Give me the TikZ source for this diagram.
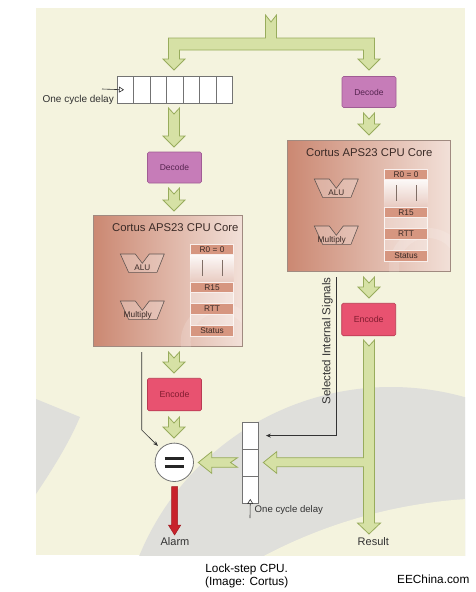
\documentclass[tikz,border=0pt]{standalone}
\usepackage{fontspec}
\setmainfont{Liberation Sans}
\usetikzlibrary{arrows.meta}
\definecolor{cream}{RGB}{244,243,222}
\definecolor{swoosh}{RGB}{223,223,219}
\definecolor{gfill}{RGB}{214,225,165}
\definecolor{gline}{RGB}{152,172,92}
\definecolor{decfill}{RGB}{198,124,184}
\definecolor{decline}{RGB}{160,92,148}
\definecolor{dectext}{RGB}{86,36,80}
\definecolor{encfill}{RGB}{232,82,112}
\definecolor{encline}{RGB}{184,58,82}
\definecolor{enctext}{RGB}{130,28,48}
\definecolor{cpuL}{RGB}{203,136,114}
\definecolor{cpuR}{RGB}{242,224,216}
\definecolor{cpuline}{RGB}{160,138,128}
\definecolor{regfill}{RGB}{214,150,128}
\definecolor{dtext}{RGB}{58,42,38}
\definecolor{alarmred}{RGB}{200,34,43}
\definecolor{txt}{RGB}{50,50,50}
\tikzset{
  garrow/.style={fill=gfill, draw=gline, line width=0.8pt, line join=miter},
  decbox/.style={rectangle, rounded corners=1.5pt, fill=decfill, draw=decline, line width=0.6pt,
    minimum width=54pt, minimum height=31pt, inner sep=0pt, text=dectext, font=\fontsize{8.5}{10}\selectfont},
  encbox/.style={rectangle, rounded corners=1.5pt, fill=encfill, draw=encline, line width=0.6pt,
    minimum width=54pt, minimum height=32.5pt, inner sep=0pt, text=enctext, font=\fontsize{8.8}{10}\selectfont},
  cpubox/.style={rectangle, draw=cpuline, line width=0.6pt, left color=cpuL, right color=cpuR, inner sep=0pt},
  cputitle/.style={inner sep=0pt, text=dtext, font=\fontsize{11.3}{13}\selectfont},
  reg/.style={rectangle, fill=regfill, draw=white!85!regfill, line width=0.5pt, inner sep=0pt,
    minimum width=43pt, minimum height=10pt, text=dtext, font=\fontsize{8.3}{9}\selectfont},
  regline/.style={draw=cpuline!80!black, line width=0.5pt},
  alushape/.style={fill=white, fill opacity=0.25, draw=dtext!80, line width=0.6pt, line join=miter},
  alulabel/.style={inner sep=0pt, text=dtext, font=\fontsize{8.2}{9}\selectfont},
  cell/.style={rectangle, fill=white, draw=black!55, line width=0.6pt, inner sep=0pt},
  thinline/.style={draw=black!80, line width=0.6pt},
  lbl/.style={inner sep=0pt, text=txt},
  eqc/.style={circle, fill=white, draw=black!55, line width=0.8pt, inner sep=0pt, minimum size=38.4pt},
}
\newcommand\gdown[3]{%
  \path[garrow] ({#1-5.5},#2) -- (#1,{#2+6}) -- ({#1+5.5},#2) -- ({#1+5.5},{#3-11}) -- ({#1+11},{#3-11})
    -- (#1,#3) -- ({#1-11},{#3-11}) -- ({#1-5.5},{#3-11}) -- cycle;}
\newcommand\alupath[2]{%
  \path[alushape] (#1,#2) -- ({#1+15},#2) -- ({#1+22},{#2+9.3}) -- ({#1+29},#2) -- ({#1+44},#2)
    -- ({#1+36.7},{#2+18.3}) -- ({#1+8.3},{#2+18.3}) -- cycle;}
\newcommand\cpucore[4]{%
  \node[cpubox, minimum width=#3pt, minimum height=131pt, anchor=north west] (#4) at (#1,#2) {};
  \begin{scope}
    \clip (#1,#2) rectangle ({#1+#3},{#2+131});
    \draw[white, opacity=.15, line width=10pt] ({#1+#3-22},{#2+127}) circle[radius=34];
  \end{scope}
  \node[cputitle] (#4-title) at ({#1+82},{#2+12.5}) {Cortus APS23 CPU Core};
  \fill[white, opacity=.3] ({#1+97},{#2+29}) rectangle ({#1+140},{#2+120.5});
  \draw[white!70!cpuR, line width=.4pt] ({#1+97},{#2+29}) rectangle ({#1+140},{#2+120.5});
  \shade[top color=white, bottom color=white!55!cpuL, opacity=.9] ({#1+97},{#2+38.5}) rectangle ({#1+140},{#2+67});
  \draw[regline] ({#1+108.5},{#2+45}) -- ({#1+108.5},{#2+61});
  \draw[regline] ({#1+129},{#2+45}) -- ({#1+129},{#2+61});
  \node[reg, anchor=north west] (#4-r0) at ({#1+97},{#2+29}) {R0 = 0};
  \node[reg, anchor=north west] (#4-r15) at ({#1+97},{#2+67}) {R15};
  \node[reg, anchor=north west, minimum height=10.5pt] (#4-rtt) at ({#1+97},{#2+88}) {RTT};
  \node[reg, anchor=north west, minimum height=10.5pt] (#4-st) at ({#1+97},{#2+110}) {Status};
  \alupath{#1+27}{#2+39}
  \node[alulabel] (#4-alu) at ({#1+49},{#2+52.5}) {ALU};
  \alupath{#1+27}{#2+86}
  \node[alulabel, font=\fontsize{8.3}{9}\selectfont] (#4-mul) at ({#1+44.5},{#2+100}) {Multiply};
}
\begin{document}
\begin{tikzpicture}[x=1pt,y=-1pt]
\useasboundingbox (0,0) rectangle (476,592);
\fill[white] (0,0) rectangle (476,592);
\fill[cream] (36,8) rectangle (465,555);
\begin{scope}
  \clip (36,8) rectangle (465,555);
  \fill[swoosh] (391,659) circle[radius=272];
  \fill[cream] (499,1003) circle[radius=505];
  \fill[swoosh] (36,399) -- (80,417) .. controls (68,445) and (52,470) .. (36,494) -- cycle;
\end{scope}

% top T arrow
\path[garrow] (265.5,15) -- (271,22) -- (276.5,15) -- (276.5,38) -- (374.5,38) -- (374.5,59)
  -- (380,59) -- (369,70) -- (358,59) -- (363.5,59) -- (363.5,50) -- (179.5,50) -- (179.5,59)
  -- (185,59) -- (174,70) -- (163,59) -- (168.5,59) -- (168.5,38) -- (265.5,38) -- cycle;

% top shift register
\foreach \i in {0,...,6} {
  \node[cell, minimum width=16.43pt, minimum height=27pt, anchor=north west] (top\i) at ({117+\i*16.43},76) {};
}
\coordinate (clkA) at (102,89);
\draw[thinline, -{Triangle[open, length=5pt, width=6pt]}] (clkA) -- ([xshift=7pt]top0.west);
\node[lbl, anchor=east, font=\fontsize{10}{12}\selectfont] (delay1) at (114,100) {One cycle delay};

% left column
\gdown{174}{108}{147}
\node[decbox] (decL) at (174.5,167.5) {Decode};
\gdown{174}{188}{211}
\cpucore{93.3}{215}{148.4}{coreL}
\gdown{174}{352}{373}
\node[encbox] (encL) at (174.5,394.5) {Encode};
\gdown{174}{417}{438}

% right column
\node[decbox] (decR) at (369,92) {Decode};
\gdown{369}{113}{135}
\cpucore{287.3}{140}{162.7}{coreR}
\gdown{369}{277}{298}
\node[encbox] (encR) at (368.7,319.5) {Encode};

% result arrow with branch
\path[garrow] (363.5,340) -- (369,346) -- (374.5,340) -- (374.5,523) -- (380.5,523) -- (369,534)
  -- (357.5,523) -- (363.5,523) -- (363.5,466.7) -- (276.7,466.7) -- (276.7,473.3) -- (263.3,462.5)
  -- (276.7,451.7) -- (276.7,457.7) -- (363.5,457.7) -- cycle;

% bottom shift register
\foreach \i in {0,1,2} {
  \node[cell, minimum width=16.6pt, minimum height=27.2pt, anchor=north west] (bot\i) at (241.7,{421.7+\i*27.2}) {};
}
\coordinate (clkB) at (250,518);
\draw[thinline, -{Triangle[open, length=5pt, width=6pt]}] (clkB) -- ([yshift=5pt]bot2.south);
\node[lbl, anchor=west, font=\fontsize{9.6}{11}\selectfont] (delay2) at (254.5,510) {One cycle delay};

% arrow register -> compare
\path[garrow] (237.5,457.7) -- (230.5,462.5) -- (237.5,467.3) -- (211.7,467.3) -- (211.7,473.3)
  -- (198.3,462.5) -- (211.7,451.7) -- (211.7,457.7) -- cycle;

% compare
\node[eqc] (eq) at (174.3,462.3) {};
\draw[line width=2.5pt, black!85] ([xshift=-9.5pt, yshift=4pt]eq.center) -- ([xshift=9.5pt, yshift=4pt]eq.center);
\draw[line width=2.5pt, black!85] ([xshift=-9.5pt, yshift=-4pt]eq.center) -- ([xshift=9.5pt, yshift=-4pt]eq.center);

% alarm arrow
\path[fill=alarmred, draw=alarmred!80!black, line width=0.5pt] (171.6,486.5) -- (177.6,486.5) -- (177.6,525)
  -- (180.8,525) -- (174.6,535) -- (168.4,525) -- (171.6,525) -- cycle;
\node[lbl, font=\fontsize{11}{13}\selectfont] (alarm) at (175,542) {Alarm};
\node[lbl, font=\fontsize{11}{13}\selectfont] (result) at (373.3,542) {Result};

% thin signal lines
\coordinate (selA) at (336.7,277);
\draw[thinline, -{Stealth[length=5pt, width=4pt]}] (selA) |- ([xshift=7pt]bot0.east);
\node[lbl, rotate=90, font=\fontsize{11.5}{13}\selectfont] (sel) at (327.5,341) {Selected Internal Signals};
\coordinate (lt) at (141.7,352);
\draw[thinline, -{Stealth[length=5pt, width=4pt]}] (lt) -- (141.7,430) -- ([shift={(-2.5,-2.5)}]eq.north west);

% caption
\node[inner sep=0pt, font=\fontsize{11.8}{14}\selectfont] (cap1) at (246.7,569) {Lock-step CPU.};
\node[inner sep=0pt, font=\fontsize{11.8}{14}\selectfont] (cap2) at (246.7,582.5) {(Image: Cortus)};
\node[inner sep=0pt, font=\fontsize{11.8}{14}\selectfont] (cap3) at (433.3,579) {EEChina.com};
\end{tikzpicture}
\end{document}
